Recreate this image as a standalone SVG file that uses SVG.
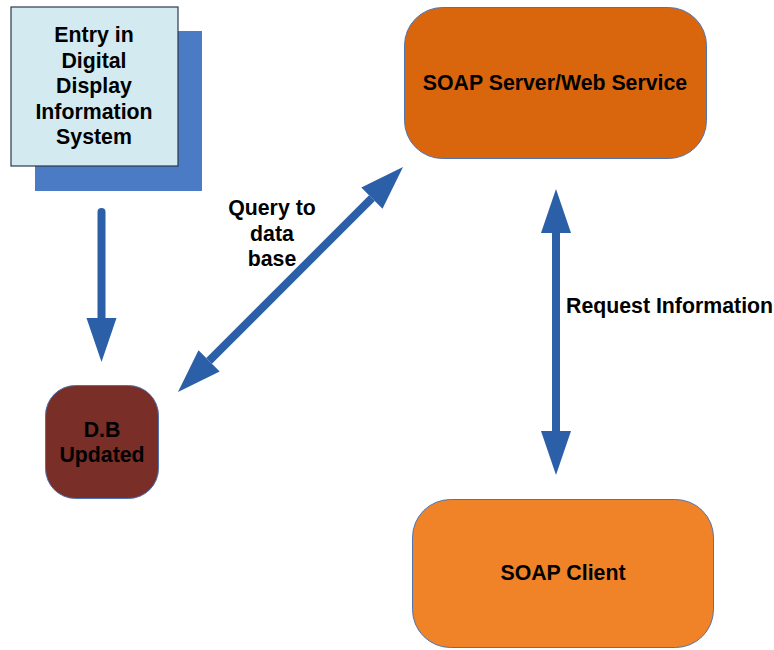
<svg xmlns="http://www.w3.org/2000/svg" width="774" height="650" viewBox="0 0 774 650">
  <style>
    text { font-family: "Liberation Sans", Arial, sans-serif; font-weight: bold; font-size: 21.3px; fill: #000; text-anchor: middle; }
    .conn { stroke: #2B5FA7; stroke-width: 8; fill: none; }
    .box { stroke: #4F73B0; stroke-width: 1; }
  </style>
  <defs>
    <marker id="head" markerUnits="userSpaceOnUse" markerWidth="44" markerHeight="30" refX="0" refY="15" orient="auto-start-reverse" overflow="visible">
      <path d="M0,0 L44,15 L0,30 Z" fill="#2B5FA7"/>
    </marker>
  </defs>
  <rect width="774" height="650" fill="#fff"/>

  <g id="entry">
    <rect x="35" y="31" width="167" height="160" fill="#4A7BC4"/>
    <rect x="11" y="7" width="167" height="159" fill="#D2EAF0" stroke="#2A3A4E" stroke-width="1.2"/>
    <text x="94" y="42">Entry in</text>
    <text x="94" y="68">Digital</text>
    <text x="94" y="93">Display</text>
    <text x="94" y="119">Information</text>
    <text x="94" y="144">System</text>
  </g>

  <g id="soap-server">
    <rect class="box" x="404.5" y="7.5" width="302" height="151" rx="38" ry="38" fill="#D9660D"/>
    <text x="555" y="90">SOAP Server/Web Service</text>
  </g>

  <g id="db-updated">
    <rect class="box" x="45.5" y="385.5" width="113" height="113" rx="30" ry="30" fill="#7A2E28"/>
    <text x="102" y="437">D.B</text>
    <text x="102" y="462">Updated</text>
  </g>

  <g id="soap-client">
    <rect class="box" x="412.5" y="499.5" width="301" height="148" rx="38" ry="38" fill="#F08328"/>
    <text x="563" y="580">SOAP Client</text>
  </g>

  <g id="connectors">
    <line class="conn" x1="101.5" y1="212" x2="101.5" y2="318" stroke-linecap="round" marker-end="url(#head)"/>
    <line class="conn" x1="209.1" y1="360.9" x2="371.9" y2="198.1" marker-start="url(#head)" marker-end="url(#head)"/>
    <line class="conn" x1="556" y1="233" x2="556" y2="431" marker-start="url(#head)" marker-end="url(#head)"/>
  </g>

  <g id="labels">
    <text x="272" y="215">Query to</text>
    <text x="272" y="241">data</text>
    <text x="272" y="266">base</text>
    <text x="566" y="313" style="text-anchor:start">Request Information</text>
  </g>
</svg>
